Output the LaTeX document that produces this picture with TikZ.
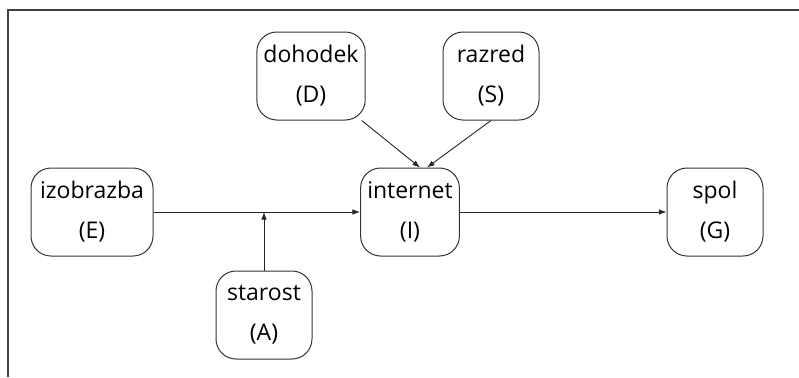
\documentclass[tikz,border=0pt]{standalone}
\usepackage{fontspec}
\setmainfont{Open Sans}
\usetikzlibrary{arrows.meta,positioning}
\tikzset{
    var/.style = {
        draw = black!80,
        line width = 0.5pt,
        rounded corners = 10pt,
        minimum width = 48pt,
        minimum height = 44pt,
        align = center,
        font = \fontsize{11.5}{20}\selectfont,
        },
    link/.style = {
        draw = black!85,
        line width = 0.45pt,
        -{Latex[length=3.8pt,width=2.8pt]},
        },
    frame/.style = {
        draw = black!75,
        line width = 0.75pt,
        },
}
\begin{document}
\begin{tikzpicture}[x=0.5pt, y=-0.5pt]
            \useasboundingbox (0,0) rectangle (799,377);
            \draw[frame] (8,377) -- (8,10) -- (799,10);

            \node[var] (D) at (311,76) {dohodek\\(D)};
            \node[var] (S) at (491,76) {razred\\(S)};
            \node[var, minimum width=61pt] (E) at (92,212) {izobrazba\\(E)};
            \node[var] (I) at (410,212) {internet\\(I)};
            \node[var] (G) at (715,212) {spol\\(G)};
            \node[var] (A) at (264,315) {starost\\(A)};

            \coordinate (m) at (A |- E);

            \path[link] (E) -- (I);
            \path[link] (A) -- (m);
            \path[link] (I) -- (G);
            \path[link] ([xshift=-2pt]D.south east) -- ([xshift=5pt]I.north);
            \path[link] (S.south) -- ([xshift=8.5pt]I.north);
        \end{tikzpicture}
\end{document}
